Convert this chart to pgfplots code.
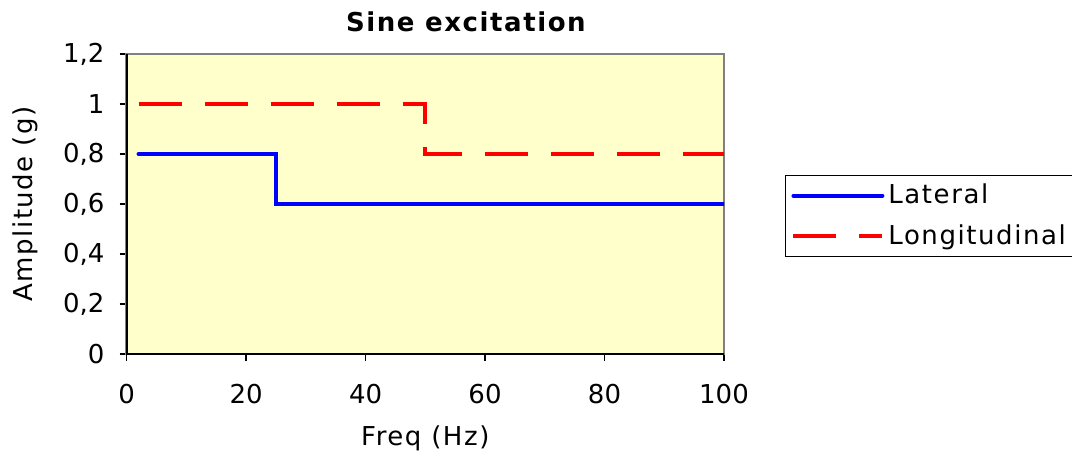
\documentclass[border=0pt]{standalone}
\usepackage{fontspec}
\setmainfont{DejaVu Sans}
\newfontfamily\spaced[LetterSpace=6]{DejaVu Sans}
\usepackage{pgfplots}
\pgfplotsset{compat=1.18}

\definecolor{plotbg}{HTML}{FFFFCC}
\definecolor{framegray}{HTML}{808080}

\begin{document}
\begin{tikzpicture}
\begin{axis}[
    scale only axis,
    width=298.7pt,
    height=150pt,
    xmin=0, xmax=100,
    ymin=0, ymax=1.2,
    xtick={0,20,40,60,80,100},
    ytick={0,0.2,0.4,0.6,0.8,1.0,1.2},
    xtick pos=left, ytick pos=left,
    tick align=outside,
    major tick length=3.5pt,
    tick style={black, line width=0.6pt},
    axis background/.style={fill=plotbg},
    axis line style={framegray, line width=1.2pt},
    after end axis/.code={
        \draw[black, line width=1pt] (rel axis cs:0,1) -- (rel axis cs:0,0) -- (rel axis cs:1,0);
    },
    /pgf/number format/assume math mode=true,
    /pgf/number format/use comma,
    ticklabel style={font=\fontsize{13}{15}\selectfont},
    xticklabel style={yshift=-8pt},
    yticklabel style={xshift=-4pt},
    every axis title shift=0pt,
    title={Sine excitation},
    title style={font=\fontsize{13}{15}\selectfont\spaced\bfseries, at={(rel axis cs:0.568,1.107)}, anchor=center},
    xlabel={Freq (Hz)},
    xlabel style={font=\fontsize{13}{15}\selectfont\spaced, at={(rel axis cs:0.5,-0.28)}, anchor=center},
    ylabel={Amplitude (g)},
    ylabel style={font=\fontsize{13}{15}\selectfont\spaced, at={(rel axis cs:-0.169,0.5)}, anchor=center},
    legend style={at={(rel axis cs:1.102,0.46)}, anchor=west, draw=black, line width=0.5pt,
        font=\fontsize{13}{15}\selectfont\spaced, inner xsep=3pt, inner ysep=2.5pt, row sep=5pt},
    legend cell align=left,
    legend image code/.code={\draw[#1] (0pt,0pt) -- (44.5pt,0pt);},
]
\addplot[blue, line width=2pt, line cap=round, line join=miter] coordinates {
(2,0.8) (25,0.8) (25,0.6) (100,0.6)
};
\addlegendentry{Lateral}
\addplot[red, line width=2pt, dash pattern=on 21.5pt off 11.5pt] coordinates {
(2,1.0) (50,1.0) (50,0.8) (100,0.8)
};
\addlegendentry{Longitudinal}
\coordinate (bl) at (rel axis cs:-0.2119,-0.3433);
\coordinate (tr) at (rel axis cs:1.5825,1.18);
\end{axis}
\pgfresetboundingbox
\path (bl) rectangle (tr);
\end{tikzpicture}
\end{document}
